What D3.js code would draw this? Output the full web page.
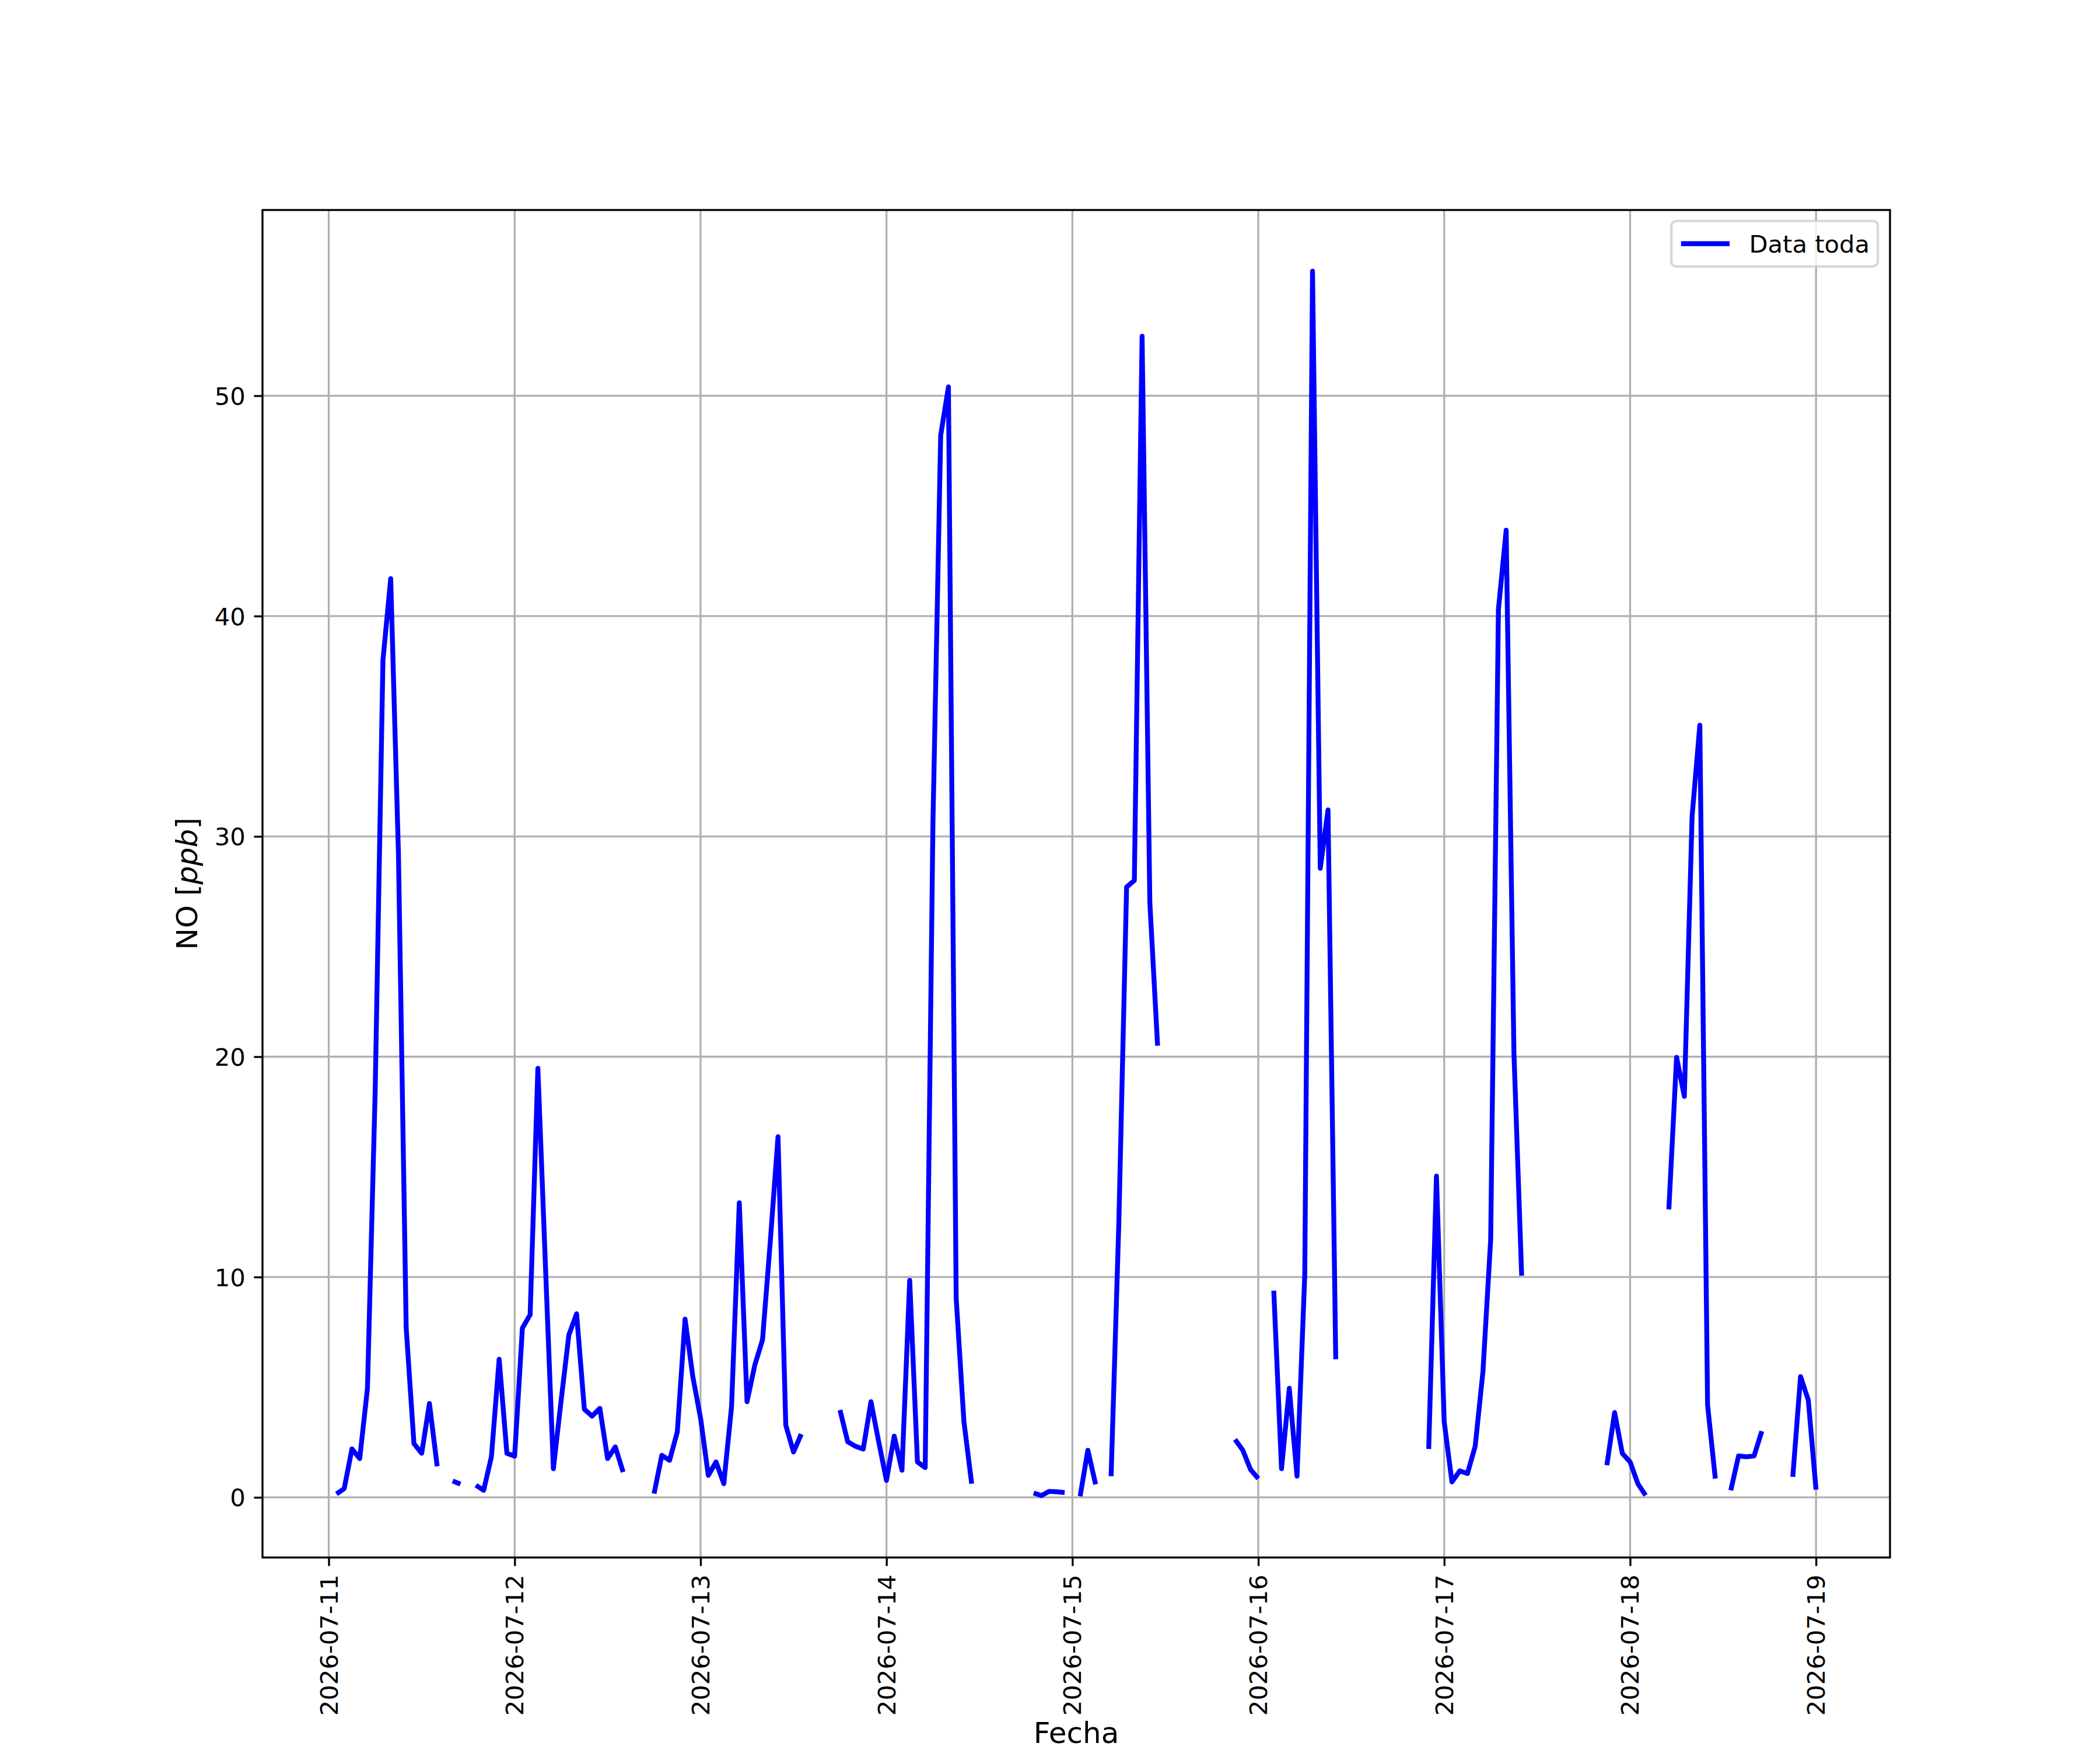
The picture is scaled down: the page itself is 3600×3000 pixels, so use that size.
<!DOCTYPE html>
<html>
<head>
<meta charset="utf-8">
<script src="https://cdn.jsdelivr.net/npm/d3@7/dist/d3.min.js"></script>
<style>
  body { margin: 0; background: #fff; }
  svg { display: block; }
  text { font-family: "DejaVu Sans", sans-serif; fill: #000; }
</style>
</head>
<body>
<svg id="chart" width="3600" height="3000"></svg>
<script>
// hourly NO readings, first one at 2026-07-11 01:00 (null = no data)
var inicio = "2026-07-11T01:00:00Z";

var noDia11 = [0.15, 0.4, 2.2, 1.76, 4.95, 18.5, 38, 41.7, 29.2, 7.7, 2.44, 2.0,
               4.26, 1.41, null, 0.74, 0.6, null, 0.55, 0.32, 1.84, 6.27, 2.0, 1.87];
var noDia12 = [7.68, 8.29, 19.47, 10.3, 1.3, 4.4, 7.37, 8.33, 4.0, 3.69, 4.04, 1.76,
               2.29, 1.15, null, null, null, 0.17, 1.91, 1.68, 2.97, 8.09, 5.48, 3.6];
var noDia13 = [1.0, 1.61, 0.62, 4.11, 13.37, 4.34, 6.0, 7.15, 11.6, 16.37, 3.28, 2.06,
               2.87, null, null, null, null, 3.96, 2.52, 2.32, 2.19, 4.34, 2.52, 0.77];
var noDia14 = [2.78, 1.23, 9.85, 1.61, 1.35, 30.6, 48.2, 50.4, 9.04, 3.43, 0.62, null,
               null, null, null, null, null, null, 0.2, 0.08, 0.27, 0.25, 0.22, null];
var noDia15 = [0.05, 2.14, 0.59, null, 0.96, 12.5, 27.7, 28.0, 52.7, 27.0, 20.5, null,
               null, null, null, null, null, null, null, null, 2.63, 2.14, 1.26, 0.85];
var noDia16 = [null, 9.38, 1.3, 4.95, 0.96, 10.1, 55.65, 28.55, 31.2, 6.27, null, null,
               null, null, null, null, null, null, null, null, null, 2.2, 14.58, 3.43];
var noDia17 = [0.7, 1.2, 1.08, 2.32, 5.7, 11.7, 40.3, 43.9, 20.2, 10.06, null, null,
               null, null, null, null, null, null, null, null, 1.46, 3.85, 1.99, 1.61];
var noDia18 = [0.62, 0.09, null, null, 13.07, 19.97, 18.2, 30.9, 35.05, 4.19, 0.85, null,
               0.32, 1.88, 1.84, 1.88, 3.0, null, null, null, 0.93, 5.48, 4.42, 0.35];

var fechasTicks = ["2026-07-11", "2026-07-12", "2026-07-13", "2026-07-14", "2026-07-15",
                   "2026-07-16", "2026-07-17", "2026-07-18", "2026-07-19"];
var valoresTicks = [0, 10, 20, 30, 40, 50];

var serieNombre = "Data toda";
var etiquetaX = "Fecha";

// ---- build records
var valores = [].concat(noDia11, noDia12, noDia13, noDia14, noDia15, noDia16, noDia17, noDia18);
var t0 = new Date(inicio);
var datos = valores.map(function(v, i){
    return { t: d3.utcHour.offset(t0, i), v: v };
});

// figure geometry (matplotlib default subplot params at 12x10in, 300dpi)
// NOTE: don't call these top/left at global scope, window.top is read-only
var axL = 450, axR = 3240, axT = 360, axB = 2670;
var pt = 300 / 72;
var lw = 2 * pt;

var svg = d3.select("#chart");

// 5% margins like matplotlib autoscale
var tExt = d3.extent(datos, function(d){ return d.t; });
var span = tExt[1] - tExt[0];
var x = d3.scaleUtc()
    .domain([new Date(+tExt[0] - span * 0.05), new Date(+tExt[1] + span * 0.05)])
    .range([axL, axR]);

var def = datos.filter(function(d){ return d.v != null; });
var vExt = d3.extent(def, function(d){ return d.v; });
var vSpan = vExt[1] - vExt[0];
var y = d3.scaleLinear()
    .domain([vExt[0] - vSpan * 0.05, vExt[1] + vSpan * 0.05])
    .range([axB, axT]);

var parseDia = d3.utcParse("%Y-%m-%d");
var tickFechas = fechasTicks.map(function(s){ return parseDia(s); });

// grid
var grid = svg.append("g").attr("class", "grid")
    .attr("stroke", "#b0b0b0")
    .attr("stroke-width", 0.8 * pt);

grid.selectAll("line.gx").data(tickFechas).enter().append("line")
    .attr("class", "gx")
    .attr("x1", function(d){ return x(d); })
    .attr("x2", function(d){ return x(d); })
    .attr("y1", axT).attr("y2", axB);

grid.selectAll("line.gy").data(valoresTicks).enter().append("line")
    .attr("class", "gy")
    .attr("y1", function(d){ return y(d); })
    .attr("y2", function(d){ return y(d); })
    .attr("x1", axL).attr("x2", axR);

// the series, broken where readings are missing
var linea = d3.line()
    .defined(function(d){ return d.v != null; })
    .x(function(d){ return x(d.t); })
    .y(function(d){ return y(d.v); });

svg.append("path")
    .datum(datos)
    .attr("d", linea)
    .attr("fill", "none")
    .attr("stroke", "#0000ff")
    .attr("stroke-width", lw)
    .attr("stroke-linejoin", "round")
    .attr("stroke-linecap", "butt");

// axes
var ejeX = d3.axisBottom(x)
    .tickValues(tickFechas)
    .tickFormat(d3.utcFormat("%Y-%m-%d"))
    .tickSize(3.5 * pt)
    .tickPadding(3.5 * pt);

var gx = svg.append("g")
    .attr("transform", "translate(0," + axB + ")")
    .call(ejeX);

gx.select(".domain").remove();
gx.selectAll(".tick line").attr("stroke", "#000").attr("stroke-width", 0.8 * pt);
gx.selectAll(".tick text")
    .attr("font-size", 10 * pt)
    .attr("font-family", "DejaVu Sans")
    .attr("fill", "#000")
    .attr("dy", null)
    .attr("y", 0)
    .attr("x", 0)
    .attr("text-anchor", "end")
    .attr("dominant-baseline", "central")
    .attr("transform", "translate(0," + (7 * pt) + ") rotate(-90)");

var ejeY = d3.axisLeft(y)
    .tickValues(valoresTicks)
    .tickFormat(d3.format("d"))
    .tickSize(3.5 * pt)
    .tickPadding(3.5 * pt);

var gy = svg.append("g")
    .attr("transform", "translate(" + axL + ",0)")
    .call(ejeY);

gy.select(".domain").remove();
gy.selectAll(".tick line").attr("stroke", "#000").attr("stroke-width", 0.8 * pt);
gy.selectAll(".tick text")
    .attr("font-size", 10 * pt)
    .attr("font-family", "DejaVu Sans")
    .attr("fill", "#000")
    .attr("dy", "0.36em");

// frame
svg.append("rect")
    .attr("x", axL).attr("y", axT)
    .attr("width", axR - axL).attr("height", axB - axT)
    .attr("fill", "none")
    .attr("stroke", "#000")
    .attr("stroke-width", 0.8 * pt);

// axis labels
svg.append("text")
    .attr("x", (axL + axR) / 2)
    .attr("y", 2988)
    .attr("text-anchor", "middle")
    .attr("font-size", 12 * pt)
    .text(etiquetaX);

var yl = svg.append("text")
    .attr("transform", "translate(338," + ((axT + axB) / 2) + ") rotate(-90)")
    .attr("text-anchor", "middle")
    .attr("font-size", 12 * pt);
yl.append("tspan").text("NO [");
yl.append("tspan").attr("font-style", "italic").text("ppb");
yl.append("tspan").text("]");

// legend, upper right
var fs = 10 * pt;
var legW = 354, legH = 78;
var legX = axR - 0.5 * fs - legW, legY = axT + 0.45 * fs;
var leg = svg.append("g").attr("transform", "translate(" + legX + "," + legY + ")");

leg.append("rect")
    .attr("width", legW).attr("height", legH)
    .attr("rx", 0.2 * fs).attr("ry", 0.2 * fs)
    .attr("fill", "#fff").attr("fill-opacity", 0.8)
    .attr("stroke", "#cccccc").attr("stroke-opacity", 0.8)
    .attr("stroke-width", 1.0 * pt);

leg.append("line")
    .attr("x1", 0.4 * fs).attr("x2", 0.4 * fs + 2 * fs)
    .attr("y1", legH / 2).attr("y2", legH / 2)
    .attr("stroke", "#0000ff")
    .attr("stroke-width", lw);

leg.append("text")
    .attr("x", 0.4 * fs + 2.8 * fs)
    .attr("y", legH / 2)
    .attr("dy", "0.36em")
    .attr("font-size", fs)
    .text(serieNombre);
</script>
</body>
</html>
